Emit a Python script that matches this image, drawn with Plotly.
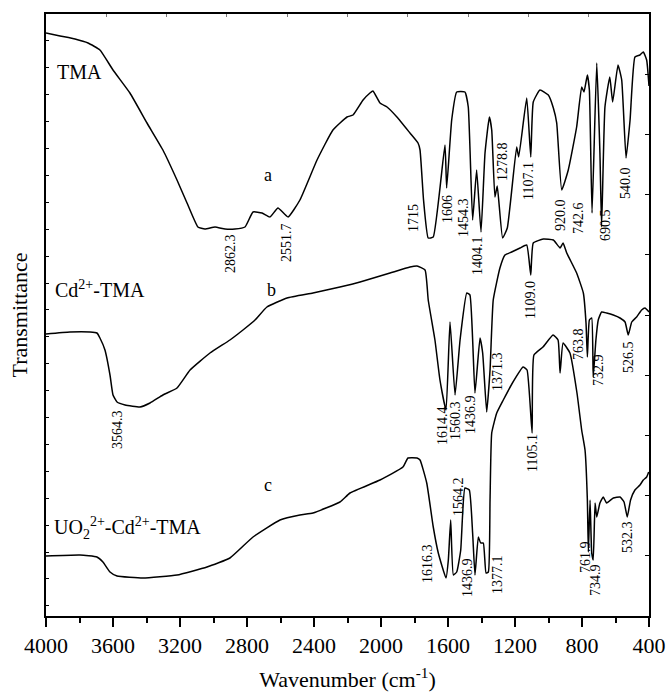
import plotly.graph_objects as go

# ---------------- data (wavenumber cm^-1, transmittance a.u.) ----------------
tma_x = [4000, 3916, 3827, 3749, 3678, 3600, 3499, 3397, 3302, 3218, 3158, 3093, 3051, 2991, 2931,
         2872, 2812, 2764, 2710, 2663, 2615, 2555, 2484, 2382, 2287, 2203, 2167, 2107, 2066, 2048,
         2006, 1964, 1905, 1827, 1779, 1767, 1746, 1718, 1688, 1618, 1608, 1578, 1548, 1499, 1479,
         1453, 1429, 1403, 1379, 1353, 1339, 1320, 1306, 1274, 1246, 1190, 1178, 1130, 1106, 1091,
         1051, 1001, 971, 951, 921, 882, 832, 802, 788, 768, 756, 740, 712, 693, 683, 663, 634, 617,
         585, 563, 537, 513, 484, 454, 434, 414, 400]
tma_y = [583, 580, 577, 573, 566, 546, 523, 493, 466, 436, 413, 389, 387, 389, 387,
         387, 389, 404, 403, 399, 408, 399, 416, 456, 486, 499, 501, 516, 523, 525,
         513, 509, 499, 483, 473, 466, 416, 378, 379, 471, 428, 496, 524, 524, 509,
         396, 446, 384, 463, 499, 486, 419, 430, 378, 388, 469, 459, 518, 459, 514,
         526, 521, 508, 493, 426, 446, 489, 529, 524, 541, 526, 403, 553, 463, 389, 509, 539, 514,
         551, 536, 458, 496, 559, 561, 564, 556, 530]

cd_x = [4000, 3857, 3737, 3696, 3678, 3648, 3618, 3600, 3576, 3528, 3439, 3379, 3302, 3218, 3140,
        3021, 2902, 2824, 2752, 2681, 2561, 2406, 2245, 2125, 1946, 1827, 1785, 1737, 1718, 1678,
        1648, 1612, 1588, 1558, 1528, 1488, 1469, 1439, 1409, 1393, 1369, 1349, 1330, 1290, 1260,
        1220, 1170, 1130, 1106, 1091, 1031, 971, 931, 913, 891, 832, 792, 776, 768, 756, 742, 733,
        717, 703, 683, 653, 613, 573, 543, 524, 503, 474, 444, 424, 400]
cd_y = [282, 284, 284, 283, 278, 266, 241, 221, 214, 211, 209, 213, 221, 228, 246,
        263, 276, 286, 296, 309, 318, 323, 329, 334, 343, 349, 350, 346, 316, 276,
        236, 206, 294, 221, 276, 323, 321, 223, 278, 263, 204, 246, 316, 348, 361,
        364, 368, 371, 341, 373, 377, 376, 368, 373, 363, 343, 323, 293, 259, 296, 298, 239,
        276, 296, 304, 303, 301, 298, 294, 281, 294, 299, 306, 308, 304]

uo_x = [4000, 3797, 3696, 3660, 3618, 3576, 3421, 3218, 3039, 2902, 2764, 2603, 2484, 2406, 2245,
        2185, 2006, 1869, 1839, 1785, 1767, 1727, 1688, 1658, 1612, 1598, 1584, 1568, 1548, 1524,
        1499, 1473, 1453, 1439, 1419, 1405, 1389, 1373, 1359, 1349, 1339, 1309, 1270, 1212, 1152,
        1128, 1098, 1087, 1033, 973, 943, 931, 913, 872, 830, 802, 782, 768, 762, 752, 742, 733,
        722, 712, 693, 673, 653, 613, 573, 549, 530, 510, 484, 454, 434, 414, 402]
uo_y = [60, 61, 59, 54, 44, 40, 38, 41, 49, 58, 79, 96, 101, 103, 114,
        123, 136, 149, 158, 158, 156, 133, 89, 63, 38, 56, 96, 41, 44, 66,
        128, 126, 83, 41, 79, 73, 73, 43, 44, 116, 183, 203, 216, 234, 249,
        246, 183, 261, 269, 281, 276, 243, 273, 263, 223, 186, 166, 116, 64, 116, 63, 56,
        113, 99, 113, 119, 113, 118, 119, 114, 99, 116, 126, 131, 136, 139, 144]

# peak labels: (text, x, y)
peak_labels = [
    ("2862.3", 2901, 362), ("2551.7", 2567, 373), ("1715", 1809, 398), ("1606", 1606, 407),
    ("1454.3", 1510, 398), ("1404.1", 1427, 361), ("1278.8", 1278, 455), ("1107.1", 1122, 435),
    ("920.0", 931, 401), ("742.6", 824, 398), ("690.5", 663, 391), ("540.0", 543, 433),
    ("3564.3", 3576, 186), ("1614.4", 1636, 191), ("1560.3", 1558, 195), ("1436.9", 1469, 202),
    ("1371.3", 1307, 244), ("1109.0", 1110, 316), ("763.8", 824, 272), ("732.9", 704, 246),
    ("526.5", 525, 259),
    ("1616.3", 1726, 53), ("1564.2", 1540, 119), ("1436.9", 1487, 39), ("1377.1", 1307, 41),
    ("1105.1", 1099, 163), ("761.9", 782, 59), ("734.9", 722, 36), ("532.3", 531, 79),
]
series_letters = [("a", 2675, 441), ("b", 2651, 326), ("c", 2675, 131)]
series_names = [("TMA", 3946, 544), ("Cd<sup>2+</sup>-TMA", 3958, 327),
                ("UO<sub>2</sub><sup>2+</sup>-Cd<sup>2+</sup>-TMA", 3964, 88)]

x_major = [4000, 3600, 3200, 2800, 2400, 2000, 1600, 1200, 800, 400]

FONT = "Liberation Serif, Times New Roman, serif"

fig = go.Figure()
for xs, ys in [(tma_x, tma_y), (cd_x, cd_y), (uo_x, uo_y)]:
    fig.add_trace(go.Scatter(x=xs, y=ys, mode="lines",
                             line=dict(color="black", width=1.5, shape="spline", smoothing=0.4),
                             showlegend=False, hoverinfo="skip"))
# invisible trace for the secondary (top / right) axes
fig.add_trace(go.Scatter(x=[4000], y=[0], xaxis="x2", yaxis="y2", mode="markers",
                         marker=dict(opacity=0), showlegend=False, hoverinfo="skip"))

for t, x, y in peak_labels:
    fig.add_annotation(x=x, y=y, text=t, showarrow=False, textangle=-90,
                       font=dict(family=FONT, size=14, color="black"))
for t, x, y in series_letters:
    fig.add_annotation(x=x, y=y, text=t, showarrow=False,
                       font=dict(family=FONT, size=18, color="black"))
for t, x, y in series_names:
    fig.add_annotation(x=x, y=y, text=t, showarrow=False, xanchor="left",
                       font=dict(family=FONT, size=20, color="black"))

fig.update_layout(
    width=667, height=694,
    margin=dict(l=46, r=18, t=14, b=78, autoexpand=False),
    paper_bgcolor="white", plot_bgcolor="white",
    font=dict(family=FONT, size=20, color="black"),
    xaxis=dict(range=[4000, 400], tickvals=x_major, ticks="outside", ticklen=9, tickwidth=1.5,
               tickcolor="black", showline=True, mirror=True, linewidth=2, linecolor="black",
               showgrid=False, zeroline=False, automargin=False,
               minor=dict(dtick=200, tick0=0, ticks="outside", ticklen=5, tickwidth=1.5,
                          tickcolor="black", showgrid=False),
               tickfont=dict(family=FONT, size=22),
               title=dict(text="Wavenumber (cm<sup>-1</sup>)", font=dict(family=FONT, size=22),
                          standoff=14)),
    xaxis2=dict(range=[4000, 400], overlaying="x", side="top", anchor="y", tick0=4000, dtick=360,
                ticks="inside", ticklen=3, tickcolor="#777", showticklabels=False,
                showline=True, linewidth=2, linecolor="black", showgrid=False, zeroline=False,
                automargin=False),
    yaxis=dict(range=[0, 602], tick0=602, dtick=26.9, ticks="inside", ticklen=3, tickwidth=1.2,
               tickcolor="black", showticklabels=False, showline=True, mirror=True, linewidth=2,
               linecolor="black", showgrid=False, zeroline=False, automargin=False,
               title=dict(text="Transmittance", font=dict(family=FONT, size=22), standoff=10)),
    yaxis2=dict(range=[0, 602], overlaying="y", side="right", anchor="x", tick0=0, dtick=60.2,
                ticks="inside", ticklen=4, tickwidth=1.2, tickcolor="black",
                showticklabels=False, showline=True, linewidth=2, linecolor="black",
                showgrid=False, zeroline=False, automargin=False),
)

fig.write_html("out.html", config={"displayModeBar": False},
               post_script="document.body.style.margin='0';")
